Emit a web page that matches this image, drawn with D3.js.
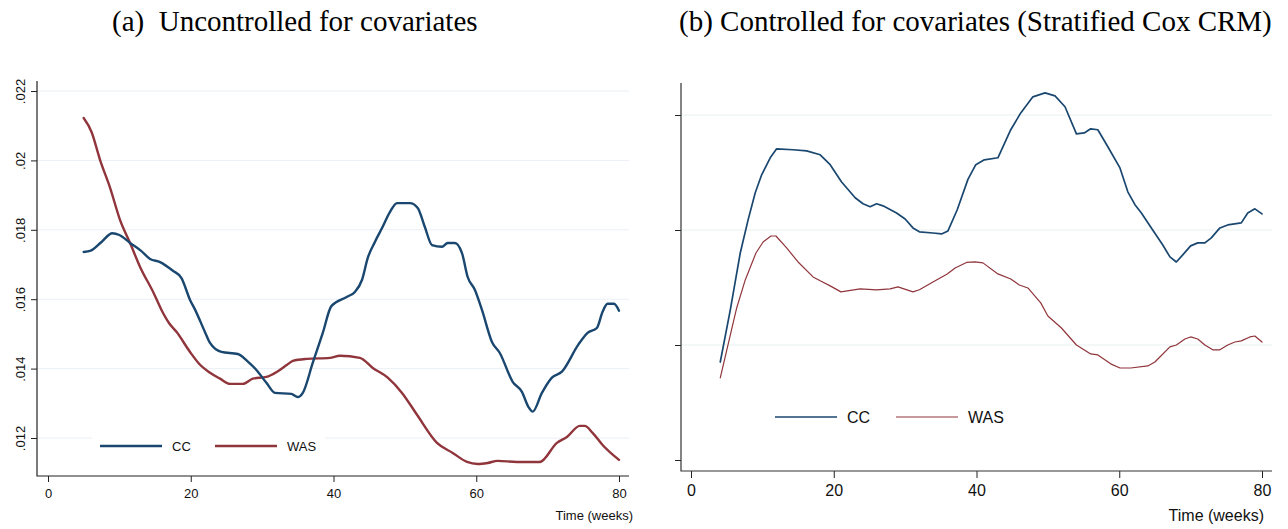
<!DOCTYPE html>
<meta charset="utf-8">
<style>
body { margin: 0; background: #fff; overflow: hidden; }
.title { font: 29px "Liberation Serif", "Times New Roman", serif; fill: #000; }
.tickA text, .legA text, .xlabA { font: 13px "Liberation Sans", Arial, sans-serif; fill: #111; }
.tickB text, .legB text, .xlabB { font: 16px "Liberation Sans", Arial, sans-serif; fill: #111; }
.tick line { stroke: #222; }
.grid { stroke-width: 1px; }
.series { fill: none; stroke-linejoin: round; stroke-linecap: round; }
</style>
<body>
<div id="chart"></div>
<script src="https://cdn.jsdelivr.net/npm/d3@7"></script>
<script>

// week ticks shared by both panels
var weekTicks = [0, 20, 40, 60, 80];

// (a) uncontrolled: y ticks and their labels
var rateTicksA = [0.012, 0.014, 0.016, 0.018, 0.020, 0.022];
var rateLabelsA = [".012", ".014", ".016", ".018", ".02", ".022"];

// (b) controlled: ticks only, no labels drawn in the source
var rateTicksB = [0.010, 0.015, 0.020, 0.025];

// [week, hazard]
var ccA = [[5,.01736],[6,.01740],[7.5,.01765],[9,.01790],[10,.01785],[11.5,.01762],[13,.01740],[14.3,.01716],
  [15.7,.01707],[17.5,.01682],[18.7,.01661],[19.9,.01598],[20.6,.0157],[22,.01505],[22.7,.01474],[24.3,.01448],
  [26.6,.01442],[28,.0142],[29.2,.01396],[30.6,.01359],[31.8,.0133],[34.1,.01327],[35,.01318],[35.7,.0133],
  [37.1,.01417],[38.5,.01503],[39.7,.0158],[41.9,.01607],[43,.01621],[44,.01656],[44.8,.01719],[45.8,.01765],
  [46.8,.01805],[47.9,.01851],[48.9,.01877],[50.7,.01877],[51.8,.01863],[52.8,.01808],[53.8,.01756],[55.2,.01751],
  [56,.01762],[57,.01762],[58,.01733],[58.8,.01664],[59.8,.01627],[60.8,.01569],[62.2,.01477],[63.3,.01445],
  [65.1,.01362],[66.4,.01333],[67.3,.0129],[67.9,.01276],[69.2,.0133],[70.6,.01374],[72,.01391],[74.3,.01469],
  [75.6,.01503],[76.9,.01517],[77.7,.01564],[78.4,.01587],[79.3,.01587],[80,.01567]];

var wasA = [[5,.02122],[6.1,.02082],[7.3,.02001],[8.7,.01921],[10.1,.01828],[11.5,.01762],[12.9,.01693],[14.8,.01618],
  [15.9,.01569],[17,.01530],[18,.01506],[19.9,.01448],[21.3,.01411],[22.7,.01388],[24.1,.01371],[25.5,.01356],
  [27.3,.01356],[28.7,.01371],[30.6,.01376],[32.1,.01391],[33.5,.01411],[34.3,.01422],[36.3,.01428],[39.5,.01431],
  [40.9,.01437],[43.7,.01431],[45.5,.01402],[47.6,.01374],[49.6,.0133],[51.7,.01267],[54.5,.01186],[56.7,.01157],
  [58.7,.01131],[60.2,.01125],[61.6,.01128],[63,.01134],[65.7,.01131],[68.9,.01131],[71.3,.01186],[72.7,.01203],
  [74.5,.01235],[75.2,.01235],[76.3,.01215],[77.7,.0118],[80,.01137]];

var ccB = [[4.1,.01426],[5.5,.01652],[6.9,.019],[8,.02044],[9,.02162],[9.9,.0224],[11.1,.02314],[12,.02353],
  [14.3,.02349],[16.2,.02344],[18.1,.02327],[19.5,.02284],[21.1,.02209],[23,.0214],[24.1,.02114],[25.1,.02101],
  [26,.02114],[26.9,.02105],[28.8,.02074],[30,.02048],[31.1,.02009],[32,.01992],[33.9,.01987],[35.1,.01983],
  [36,.01996],[37.3,.02088],[38.8,.0222],[39.9,.02284],[41.1,.02305],[43,.02314],[44.8,.02436],[46.2,.02509],
  [47.9,.02579],[49.6,.02596],[51,.02583],[52.4,.02536],[54,.02418],[55.1,.02422],[56,.0244],[57,.02436],
  [58.4,.02362],[60.1,.0227],[61.2,.02166],[62.2,.0211],[63.1,.02074],[64.5,.02009],[66.1,.01935],[67.1,.01883],
  [68,.01861],[68.9,.01892],[70,.01931],[71,.01944],[72,.01944],[72.9,.01966],[74.1,.02009],[75.2,.02022],
  [77.1,.02031],[78,.02074],[79,.02092],[80,.0207]];

var wasB = [[4.1,.01357],[6.4,.01661],[7.6,.01783],[9.1,.019],[10.1,.01948],[11.2,.01974],[11.9,.01974],[13.4,.01922],
  [15,.01861],[17.1,.01796],[18.1,.01779],[19.5,.01757],[21,.01731],[23.7,.01744],[26,.0174],[27.9,.01744],
  [29,.01753],[31.1,.01731],[32,.0174],[33.9,.01774],[35.9,.01809],[37,.01835],[38.6,.01859],[39.8,.01861],
  [40.9,.01857],[43,.01809],[44.8,.01787],[46,.01761],[47.2,.01748],[49,.01683],[50,.01626],[51.9,.01574],
  [54,.015],[56,.01461],[57,.01457],[58.8,.01418],[60.1,.014],[61.6,.014],[64,.01409],[65,.01426],
  [67.1,.01492],[68,.015],[69.2,.01526],[70,.01535],[71,.01526],[72,.015],[73.1,.01479],[74.1,.01479],
  [75.2,.015],[76.2,.01513],[77.1,.01518],[78.3,.01535],[79,.01539],[80,.01513]];

var navy = "#1a476f", maroon = "#90353b";

var width = 1288, height = 529;

var svg = d3.select("#chart").append("svg")
    .attr("width", width)
    .attr("height", height);

// ---------- panel (a) ----------
var xA = d3.scaleLinear().domain([0, 80]).range([48, 619]);
var yA = d3.scaleLinear().domain([0.012, 0.022]).range([438, 91]);
var boxA = {left: 37, right: 629, top: 81, bottom: 476};

svg.append("text").attr("class", "title")
    .attr("x", 112).attr("y", 31)
    .style("white-space", "pre")
    .text("(a)  Uncontrolled for covariates");

svg.append("g").selectAll("line").data(rateTicksA).join("line")
    .attr("class", "grid")
    .attr("stroke", "#eaf0f6")
    .attr("x1", boxA.left).attr("x2", boxA.right)
    .attr("y1", (d) => yA(d)).attr("y2", (d) => yA(d));

var lineA = d3.line().x((d) => xA(d[0])).y((d) => yA(d[1])).curve(d3.curveMonotoneX);

// legend box sits on top of the grid, under the curves
var legA = svg.append("g").attr("class", "legA");
legA.append("rect").attr("x", 92).attr("y", 430).attr("width", 233).attr("height", 22).attr("fill", "#fff");

svg.append("path").datum(wasA).attr("class", "series")
    .attr("stroke", maroon).attr("stroke-width", 2.4).attr("d", lineA);
svg.append("path").datum(ccA).attr("class", "series")
    .attr("stroke", navy).attr("stroke-width", 2.4).attr("d", lineA);

[["CC", navy, 100], ["WAS", maroon, 215]].forEach(function(s) {
    legA.append("line").attr("x1", s[2]).attr("x2", s[2] + 62).attr("y1", 446).attr("y2", 446)
        .attr("stroke", s[1]).attr("stroke-width", 2.4);
    legA.append("text").attr("x", s[2] + 72).attr("y", 451).text(s[0]);
});

var axYA = svg.append("g").attr("class", "tickA")
    .attr("transform", `translate(${boxA.left},0)`)
    .call(d3.axisLeft(yA).tickValues(rateTicksA).tickSize(6).tickFormat((d, i) => rateLabelsA[i]));
axYA.select(".domain").remove();
axYA.selectAll("text")
    .attr("x", null).attr("dy", null)
    .attr("text-anchor", "middle")
    .attr("transform", "translate(-12,0) rotate(-90)");

var axXA = svg.append("g").attr("class", "tickA")
    .attr("transform", `translate(0,${boxA.bottom})`)
    .call(d3.axisBottom(xA).tickValues(weekTicks).tickSize(6));
axXA.select(".domain").remove();
axXA.selectAll("text").attr("y", 13);

svg.append("path").attr("fill", "none").attr("stroke", "#222").attr("stroke-width", 1.2)
    .attr("d", `M${boxA.left},${boxA.top}V${boxA.bottom}H${boxA.right}`);

svg.append("text").attr("class", "xlabA")
    .attr("x", 633).attr("y", 520).attr("text-anchor", "end")
    .text("Time (weeks)");

// ---------- panel (b) ----------
var xB = d3.scaleLinear().domain([0, 80]).range([691, 1262]);
var yB = d3.scaleLinear().domain([0.010, 0.025]).range([460, 115]);
var boxB = {left: 681, right: 1272, top: 83, bottom: 471};

svg.append("text").attr("class", "title")
    .attr("x", 679).attr("y", 31)
    .text("(b) Controlled for covariates (Stratified Cox CRM)");

svg.append("g").selectAll("line").data(rateTicksB.slice(1)).join("line")
    .attr("class", "grid")
    .attr("stroke", "#e6f0ef")
    .attr("x1", boxB.left).attr("x2", boxB.right)
    .attr("y1", (d) => yB(d)).attr("y2", (d) => yB(d));

var lineB = d3.line().x((d) => xB(d[0])).y((d) => yB(d[1]));

svg.append("path").datum(wasB).attr("class", "series")
    .attr("stroke", maroon).attr("stroke-width", 1.2).attr("d", lineB);
svg.append("path").datum(ccB).attr("class", "series")
    .attr("stroke", navy).attr("stroke-width", 1.7).attr("d", lineB);

var legB = svg.append("g").attr("class", "legB");
[["CC", navy, 775, 1.7], ["WAS", maroon, 896, 1.2]].forEach(function(s) {
    legB.append("line").attr("x1", s[2]).attr("x2", s[2] + 62).attr("y1", 417).attr("y2", 417)
        .attr("stroke", s[1]).attr("stroke-width", s[3]);
    legB.append("text").attr("x", s[2] + 72).attr("y", 423).text(s[0]);
});

var axYB = svg.append("g").attr("class", "tickB")
    .attr("transform", `translate(${boxB.left},0)`)
    .call(d3.axisLeft(yB).tickValues(rateTicksB).tickSize(6).tickFormat(""));
axYB.select(".domain").remove();

var axXB = svg.append("g").attr("class", "tickB")
    .attr("transform", `translate(0,${boxB.bottom})`)
    .call(d3.axisBottom(xB).tickValues(weekTicks).tickSize(7));
axXB.select(".domain").remove();
axXB.selectAll("text").attr("y", 14);

svg.append("path").attr("fill", "none").attr("stroke", "#333").attr("stroke-width", 1.2)
    .attr("d", `M${boxB.left},${boxB.top}V${boxB.bottom}H${boxB.right}`);

svg.append("text").attr("class", "xlabB")
    .attr("x", 1264).attr("y", 521).attr("text-anchor", "end")
    .text("Time (weeks)");

</script>
